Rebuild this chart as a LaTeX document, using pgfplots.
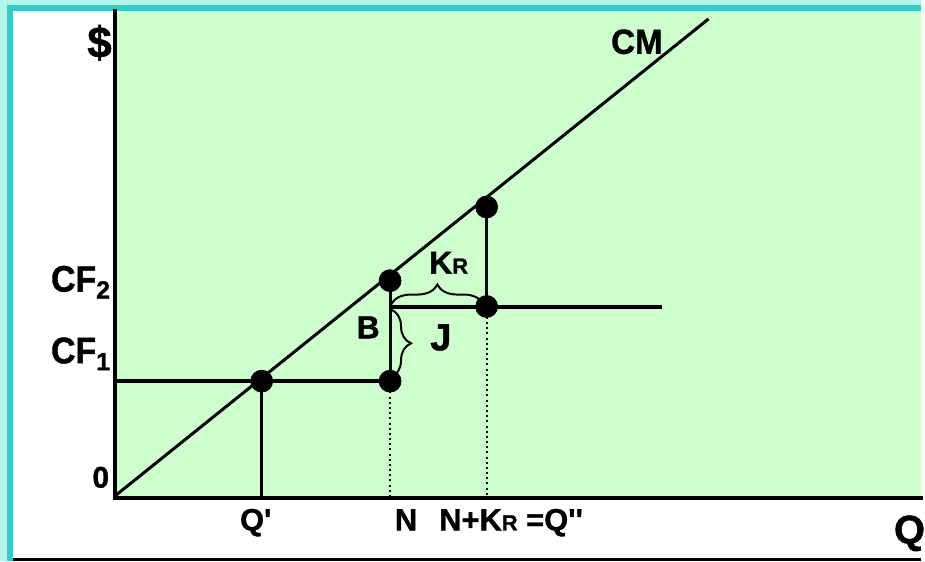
\documentclass[border=0pt]{standalone}
\usepackage{fontspec}
\setmainfont{Liberation Sans}[BoldFeatures={FakeBold=1.2}]
\usepackage{pgfplots}
\pgfplotsset{compat=1.18}
\usetikzlibrary{decorations.pathreplacing}

\definecolor{outerbg}{HTML}{B2F6EA}
\definecolor{framecol}{HTML}{33CCCC}
\definecolor{plotbg}{HTML}{CCFFCC}

\newcommand{\fs}[1]{\fontsize{#1}{#1}\selectfont\bfseries}

\begin{document}
\begin{tikzpicture}
% slide frame: units of half a point, y running downwards from the top edge
\begin{scope}[shift={(-58pt,250pt)}, x=0.5pt, y=-0.5pt]
  \useasboundingbox (0,0) rectangle (925,564);
  \fill[outerbg] (0,0) rectangle (925,564);
  \fill[framecol] (7,5) rectangle (925,564);
  \fill[white] (13,11) rectangle (925,564);
  \fill[black] (13,561) rectangle (925,564);
\end{scope}

\begin{axis}[
  at={(0,0)}, anchor=south west,
  scale only axis, width=404.5pt, height=244.5pt,
  xmin=0, xmax=809, ymin=0, ymax=489,
  axis lines*=left,
  axis line style={line width=2pt, line cap=rect},
  xtick=\empty, ytick=\empty,
  axis background/.style={fill=plotbg},
  clip=false,
]
  % cost line CM
  \addplot[line width=1.5pt] coordinates {(0,2) (596,481)};
  % CF1 level up to N
  \addplot[line width=2.25pt] coordinates {(0,117) (276,117)};
  \addplot[line width=1.5pt] coordinates {(147,117) (147,0)};
  \addplot[line width=1.5pt] coordinates {(276,117) (276,218)};
  % CF2 level
  \addplot[line width=2pt] coordinates {(276,192) (549,192)};
  \addplot[line width=1.5pt] coordinates {(373,192) (373,292)};
  % projections onto the Q axis
  \addplot[line width=1pt, dash pattern=on 1pt off 1.6pt] coordinates {(276,117) (276,0)};
  \addplot[line width=1pt, dash pattern=on 1pt off 1.6pt] coordinates {(373,192) (373,0)};
  % points
  \addplot[only marks, mark=*, mark size=5.5pt, black]
    coordinates {(147,117) (276,117) (276,218) (373,192) (373,292)};
\end{axis}

% labels and braces
\begin{scope}[shift={(-58pt,250pt)}, x=0.5pt, y=-0.5pt]
  \node[font=\fs{22}, inner sep=0] at (100,43) {\$};
  \node[font=\fs{17.5}, inner sep=0] at (640,42) {\scalebox{0.95}[1]{CM}};
  \node[font=\fs{18.5}, inner sep=0, anchor=base east] at (111,293)
    {\scalebox{0.92}[1]{CF}\raisebox{-3.5pt}{\fs{12.5}2}};
  \node[font=\fs{18.5}, inner sep=0, anchor=base east] at (111,365)
    {\scalebox{0.92}[1]{CF}\raisebox{-3.5pt}{\fs{12.5}1}};
  \node[font=\fs{15}, inner sep=0, anchor=base east] at (110,490) {0};
  \node[font=\fs{15.5}, inner sep=0, anchor=base] at (257,533) {Q\textquotesingle};
  \node[font=\fs{15.5}, inner sep=0, anchor=base] at (408,533) {N};
  \node[font=\fs{15.5}, inner sep=0, anchor=base west] at (441,533)
    {N+K{\fs{11}R} =Q\textquotesingle\textquotesingle};
  \node[font=\fs{20}, inner sep=0, anchor=base west] at (898,546) {Q};
  \node[font=\fs{16}, inner sep=0, anchor=base] at (370,340) {B};
  \node[font=\fs{19}, inner sep=0, anchor=base] at (443,352) {J};
  \node[font=\fs{16}, inner sep=0, anchor=base west] at (431,275)
    {K{\fs{11}R}};
  \draw[line width=1pt, decorate, decoration={brace, amplitude=10pt}]
    (393,306) -- (486,306);
  \draw[line width=1pt, decorate, decoration={brace, amplitude=10pt}]
    (393,311) -- (393,379);
\end{scope}
\end{tikzpicture}
\end{document}
